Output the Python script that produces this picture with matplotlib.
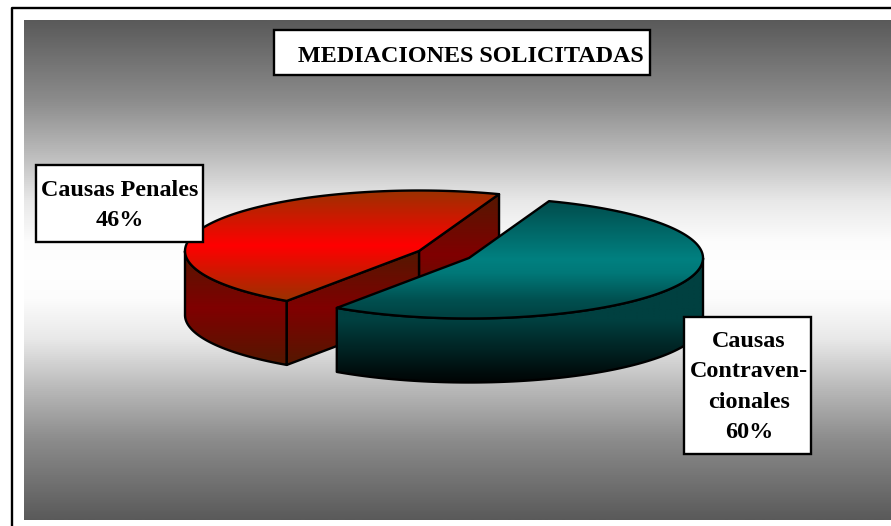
import numpy as np
import matplotlib
matplotlib.use('Agg')
import matplotlib.pyplot as plt
from matplotlib.colors import LinearSegmentedColormap
from matplotlib.patches import Polygon, Rectangle

# data
title = 'MEDIACIONES SOLICITADAS'
categories = ['Causas Penales', 'Causas\nContraven-\ncionales']
shares = [46, 54]          # size of the slices as drawn
shown_pct = ['46%', '60%'] # what the labels say

# pie layout, in pixels
W, H = 891, 526
A, B = 234, 60.5
DEPTH = 64
START = 70
RED_C = (419, 251)
TEAL_C = (469, 258)

fig = plt.figure(figsize=(W / 100, H / 100), dpi=100)
ax = fig.add_axes([0, 0, 1, 1])
ax.set_xlim(0, W)
ax.set_ylim(H, 0)
ax.axis('off')

LW = 1.7
z = [1]


def cmap(name, stops):
    return LinearSegmentedColormap.from_list(name, stops)


def grad(pts, cm):
    # vertical gradient over the bbox of pts, clipped to the polygon
    pts = np.asarray(pts)
    x0, x1 = pts[:, 0].min(), pts[:, 0].max()
    y0, y1 = pts[:, 1].min(), pts[:, 1].max()
    poly = Polygon(pts, closed=True, fc='none', ec='none', transform=ax.transData)
    ax.add_patch(poly)
    im = ax.imshow(np.linspace(0, 1, 256).reshape(-1, 1), cmap=cm, aspect='auto',
                   extent=(x0, x1, y1, y0), vmin=0, vmax=1, zorder=z[0],
                   interpolation='bilinear')
    im.set_clip_path(poly)
    z[0] += 1
    ax.add_patch(Polygon(pts, closed=True, fc='none', ec='black', lw=LW,
                         joinstyle='round', zorder=z[0]))
    z[0] += 1


def arc(c, t0, t1):
    t = np.radians(np.linspace(t0, t1, 200))
    return np.column_stack([c[0] + A * np.cos(t), c[1] - B * np.sin(t)])


def drop(pts):
    return np.asarray(pts) + [0, DEPTH]


def box(x0, y0, x1, y1):
    ax.add_patch(Rectangle((x0, y0), x1 - x0, y1 - y0, fc='white', ec='black',
                           lw=LW, zorder=50))


# angles come from the shares
edges = START + np.cumsum([0] + shares) / sum(shares) * 360

red_top = cmap('rt', ['#9a3200', '#ff0000', '#9a3200'])
red_side = cmap('rs', ['#541800', '#800000', '#541800'])
teal_top = cmap('tt', [(0, '#004c4c'), (0.5, '#008080'), (0.62, '#007878'),
                       (0.85, '#005050'), (1, '#004040')])
teal_side = cmap('ts', [(0, '#004040'), (0.5, '#004040'), (1, '#000404')])
back = cmap('bg', [(0, '#5a5a5a'), (0.16, '#8c8c8c'), (0.26, '#b8b8b8'),
                   (0.36, '#e8e8e8'), (0.44, '#fcfcfc'), (0.5, '#ffffff'),
                   (0.56, '#fcfcfc'), (0.64, '#e8e8e8'), (0.74, '#b8b8b8'),
                   (0.84, '#8c8c8c'), (1, '#5a5a5a')])

# background panel and outer frame
ax.imshow(np.linspace(0, 1, 512).reshape(-1, 1), cmap=back, aspect='auto',
          extent=(24, W, 520, 20), vmin=0, vmax=1, zorder=0)
ax.plot([W, 12, 12], [8, 8, H], color='black', lw=LW, zorder=0.5)
ax.set_xlim(0, W)
ax.set_ylim(H, 0)

# red slice
top = arc(RED_C, edges[0], edges[1])
p_back, p_front = top[0], top[-1]
outer = arc(RED_C, 180, edges[1])
grad(np.vstack([outer, drop(outer)[::-1]]), red_side)
wall_back = np.array([RED_C, p_back])
grad(np.vstack([wall_back, drop(wall_back)[::-1]]), red_side)
wall_front = np.array([p_front, RED_C])
grad(np.vstack([wall_front, drop(wall_front)[::-1]]), red_side)
grad(np.vstack([top, [RED_C]]), red_top)

# teal slice
top = arc(TEAL_C, edges[1], edges[2])
outer = arc(TEAL_C, edges[1], 360)
grad(np.vstack([outer, drop(outer)[::-1]]), teal_side)
grad(np.vstack([top, [TEAL_C]]), teal_top)

# title and labels
font = dict(family='Liberation Serif', weight='bold', color='black', zorder=51,
            ha='center', va='center')
box(274, 30, 650, 75)
ax.text(471, 56, title, fontsize=17.4, **font)

box(36, 165, 203, 242)
ax.text(120, 205.5, categories[0] + '\n' + shown_pct[0], fontsize=17.4,
        linespacing=1.58, **font)

box(684, 317, 811, 454)
ax.text(749, 387, categories[1] + '\n' + shown_pct[1], fontsize=17.4,
        linespacing=1.58, **font)

plt.savefig('out.png', dpi=100)
